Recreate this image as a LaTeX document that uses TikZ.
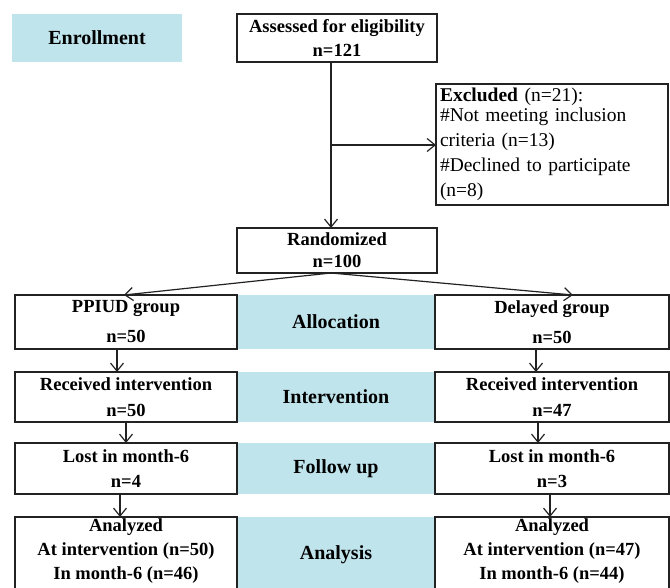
\documentclass[tikz,border=0pt]{standalone}
\usepackage{fontspec}
\setmainfont{Liberation Serif}
\usetikzlibrary{arrows.meta,calc}
\definecolor{phase}{RGB}{191,228,236}
\definecolor{ink}{RGB}{34,34,34}
\begin{document}
\begin{tikzpicture}[x=1pt,y=-1pt,
  every node/.style={inner sep=0pt, outer sep=0pt},
  flowbox/.style={draw=ink, line width=1.6pt, rectangle, align=center, text=black,
    font=\fontsize{18.5}{25}\selectfont\bfseries},
  phasebox/.style={fill=phase, rectangle, align=center, text=black,
    font=\fontsize{20}{25}\selectfont\bfseries},
  arr/.style={draw=ink, line width=1.2pt, -{Straight Barb[length=8pt,width=13pt,line width=1.2pt]}},
  plain/.style={draw=ink, line width=1.2pt}]
\useasboundingbox (0,0) rectangle (670,588);
\clip (0,0) rectangle (670,588);

% phase labels
\node[phasebox, minimum width=170, minimum height=48] (enroll) at (97,38) {Enrollment};
\node[phasebox, minimum width=198, minimum height=54] (alloc) at (336,322) {Allocation};
\node[phasebox, minimum width=198, minimum height=50] (interv) at (336,397) {Intervention};
\node[phasebox, minimum width=198, minimum height=51] (follow) at (336,468.5) {Follow up};
\node[phasebox, minimum width=198, minimum height=76] (analysis) at (336,555) {Analysis};

% boxes
\node[flowbox, minimum width=200, minimum height=48] (assess) at (337,38)
  {Assessed for eligibility\\[-1pt]n=121};
\node[flowbox, anchor=north west, minimum width=232, minimum height=121,
  text width=224, align=left, inner xsep=4pt, font=\fontsize{19.5}{24.5}\selectfont] (excl) at (436,84)
  {\textbf{Excluded} (n=21):\\[-4pt]\#Not meeting inclusion\\[0.5pt]criteria (n=13)\\[0.5pt]\#Declined to participate\\[0.5pt](n=8)};
\node[flowbox, minimum width=200, minimum height=45] (random) at (337,250.5)
  {Randomized\\[-3pt]n=100};

\node[flowbox, minimum width=222, minimum height=54] (ppiud) at (126,322)
  {PPIUD group\\[5pt]n=50};
\node[flowbox, minimum width=234, minimum height=54] (delay) at (552,322)
  {Delayed group\\[5pt]n=50};

\node[flowbox, minimum width=222, minimum height=50] (recvL) at (126,397)
  {Received intervention\\[1pt]n=50};
\node[flowbox, minimum width=234, minimum height=50] (recvR) at (552,397)
  {Received intervention\\[1pt]n=47};

\node[flowbox, minimum width=222, minimum height=51] (lostL) at (126,468.5)
  {Lost in month-6\\n=4};
\node[flowbox, minimum width=234, minimum height=51] (lostR) at (552,468.5)
  {Lost in month-6\\n=3};

\node[flowbox, minimum width=222, minimum height=76, anchor=north] (anaL) at (126,517)
  {};
\node[flowbox, minimum width=234, minimum height=76, anchor=north] (anaR) at (552,517)
  {};
\node[align=center, font=\fontsize{18.5}{24}\selectfont\bfseries, anchor=north] (anaLt) at (126,519)
  {Analyzed\\At intervention (n=50)\\In month-6 (n=46)};
\node[align=center, font=\fontsize{18.5}{24}\selectfont\bfseries, anchor=north] (anaRt) at (552,519)
  {Analyzed\\At intervention (n=47)\\In month-6 (n=44)};

% connectors
\draw[arr] ([xshift=-6pt]assess.south) -- ([xshift=-6pt]random.north);
\coordinate (br) at ($([xshift=-6pt]assess.south)!0.5!([xshift=-6pt]random.north)$);
\draw[arr] (br) -- (br -| excl.west);

\draw[arr] ([xshift=-6pt]random.south) -- ([xshift=-2pt]ppiud.north);
\draw[arr] ([xshift=-6pt]random.south) -- ([xshift=21pt]delay.north);

\draw[arr] ([xshift=-9pt]ppiud.south) -- ([xshift=-9pt]recvL.north);
\draw[arr] ([xshift=0pt]recvL.south) -- ([xshift=0pt]lostL.north);
\draw[arr] ([xshift=-6pt]lostL.south) -- ([xshift=-6pt]anaL.north);

\draw[arr] ([xshift=-16pt]delay.south) -- ([xshift=-16pt]recvR.north);
\draw[arr] ([xshift=-14pt]recvR.south) -- ([xshift=-14pt]lostR.north);
\draw[arr] ([xshift=-2pt]lostR.south) -- ([xshift=-2pt]anaR.north);
\end{tikzpicture}
\end{document}
